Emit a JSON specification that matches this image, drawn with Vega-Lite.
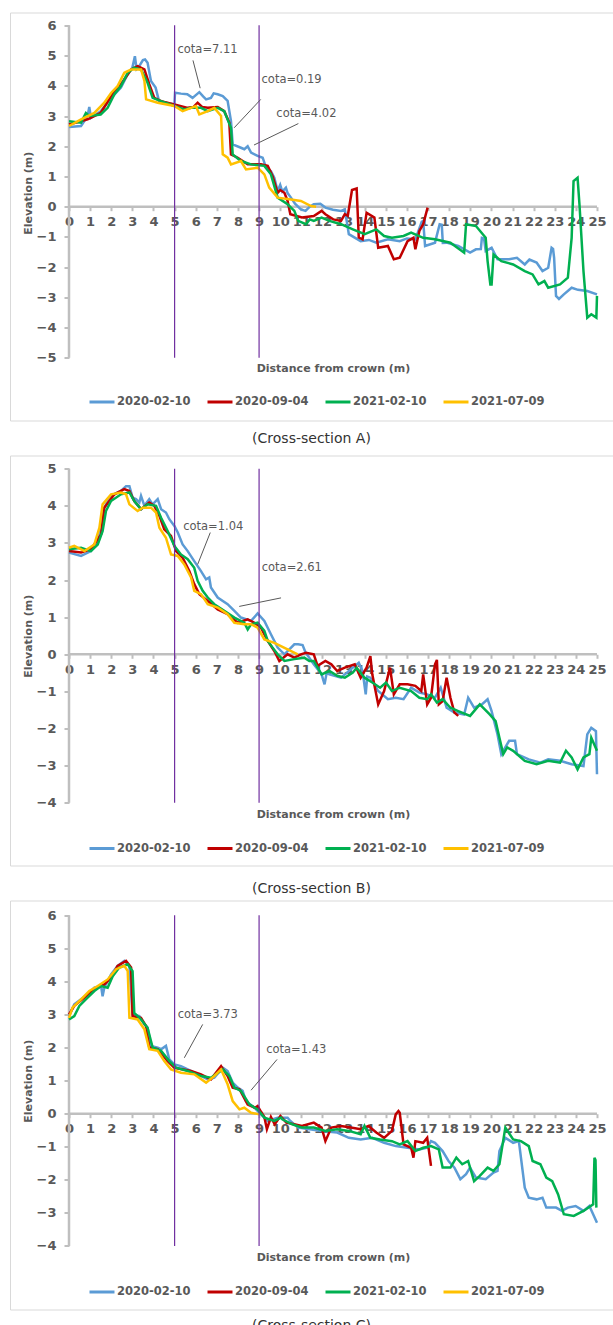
{
"$schema": "https://vega.github.io/schema/vega-lite/v6.json",
"padding": {"left": 9, "top": 11.5, "right": 0, "bottom": 0},
"background": "white",
"bounds": "flush",
"spacing": 35,
"resolve": {"scale": {"x": "independent", "y": "independent", "color": "independent"}, "axis": {"x": "independent", "y": "independent"}, "legend": {"color": "independent"}},
"config": {
  "font": "DejaVu Sans",
  "view": {"stroke": "#d9d9d9", "strokeWidth": 1},
  "axis": {"grid": false, "domain": false, "tickColor": "#bfbfbf", "tickWidth": 2, "labelColor": "#595959", "labelFont": "DejaVu Sans", "labelFontWeight": "bold", "labelFontSize": 13, "titleColor": "#595959", "titleFont": "DejaVu Sans", "titleFontWeight": "bold", "titleFontSize": 11, "labelFlush": false, "labelOverlap": false, "labelBound": false},
  "axisX": {"tickSize": 4, "labelPadding": 5, "titleX": 323, "titleBaseline": "middle", "titleAlign": "center"},
  "axisY": {"offset": -59, "tickSize": 5, "labelPadding": 8, "titleX": -41, "titleY": 180.2, "titleAngle": 270, "titleBaseline": "middle", "titleAlign": "center"},
  "legend": {"orient": "none", "legendX": 78, "direction": "horizontal", "symbolType": "stroke", "symbolStrokeWidth": 3, "symbolSize": 625, "labelFont": "DejaVu Sans", "labelFontWeight": "bold", "labelFontSize": 11.5, "labelColor": "#595959", "labelOffset": 1, "columnPadding": 10, "padding": 0, "title": null},
  "title": {"font": "DejaVu Sans", "fontSize": 14, "fontWeight": "normal", "color": "#333333", "orient": "bottom", "anchor": "middle", "baseline": "middle", "frame": "group"}
},
"datasets": {
"lA": [
{"d":"2020-02-10","x":0,"y":2.64},{"d":"2020-02-10","x":0.57,"y":2.67},{"d":"2020-02-10","x":0.88,"y":3.0},{"d":"2020-02-10","x":0.96,"y":3.3},{"d":"2020-02-10","x":1.04,"y":2.94},{"d":"2020-02-10","x":1.5,"y":3.16},{"d":"2020-02-10","x":2.0,"y":3.6},{"d":"2020-02-10","x":2.46,"y":3.94},{"d":"2020-02-10","x":2.78,"y":4.38},{"d":"2020-02-10","x":3.0,"y":4.6},{"d":"2020-02-10","x":3.12,"y":4.98},{"d":"2020-02-10","x":3.2,"y":4.55},{"d":"2020-02-10","x":3.28,"y":4.6},{"d":"2020-02-10","x":3.5,"y":4.85},{"d":"2020-02-10","x":3.6,"y":4.87},{"d":"2020-02-10","x":3.72,"y":4.76},{"d":"2020-02-10","x":3.88,"y":4.16},{"d":"2020-02-10","x":4.1,"y":3.94},{"d":"2020-02-10","x":4.26,"y":3.5},{"d":"2020-02-10","x":4.7,"y":3.42},{"d":"2020-02-10","x":4.99,"y":3.38},{"d":"2020-02-10","x":5.02,"y":3.77},{"d":"2020-02-10","x":5.3,"y":3.74},{"d":"2020-02-10","x":5.6,"y":3.72},{"d":"2020-02-10","x":5.85,"y":3.6},{"d":"2020-02-10","x":6.17,"y":3.79},{"d":"2020-02-10","x":6.35,"y":3.65},{"d":"2020-02-10","x":6.49,"y":3.55},{"d":"2020-02-10","x":6.72,"y":3.6},{"d":"2020-02-10","x":6.85,"y":3.75},{"d":"2020-02-10","x":7.04,"y":3.72},{"d":"2020-02-10","x":7.28,"y":3.66},{"d":"2020-02-10","x":7.51,"y":3.5},{"d":"2020-02-10","x":7.67,"y":2.83},{"d":"2020-02-10","x":7.75,"y":2.06},{"d":"2020-02-10","x":8.14,"y":1.95},{"d":"2020-02-10","x":8.3,"y":1.9},{"d":"2020-02-10","x":8.46,"y":2.0},{"d":"2020-02-10","x":8.62,"y":1.79},{"d":"2020-02-10","x":8.93,"y":1.68},{"d":"2020-02-10","x":9.17,"y":1.62},{"d":"2020-02-10","x":9.33,"y":1.29},{"d":"2020-02-10","x":9.56,"y":1.18},{"d":"2020-02-10","x":9.72,"y":0.96},{"d":"2020-02-10","x":9.88,"y":0.52},{"d":"2020-02-10","x":10.0,"y":0.72},{"d":"2020-02-10","x":10.1,"y":0.5},{"d":"2020-02-10","x":10.27,"y":0.63},{"d":"2020-02-10","x":10.35,"y":0.45},{"d":"2020-02-10","x":10.51,"y":0.3},{"d":"2020-02-10","x":10.7,"y":0.1},{"d":"2020-02-10","x":10.98,"y":-0.09},{"d":"2020-02-10","x":11.2,"y":-0.14},{"d":"2020-02-10","x":11.4,"y":0.0},{"d":"2020-02-10","x":11.59,"y":0.08},{"d":"2020-02-10","x":11.9,"y":0.1},{"d":"2020-02-10","x":12.14,"y":-0.03},{"d":"2020-02-10","x":12.5,"y":-0.1},{"d":"2020-02-10","x":12.88,"y":-0.14},{"d":"2020-02-10","x":13.06,"y":-0.09},{"d":"2020-02-10","x":13.25,"y":-0.91},{"d":"2020-02-10","x":13.81,"y":-1.14},{"d":"2020-02-10","x":14.2,"y":-1.1},{"d":"2020-02-10","x":14.55,"y":-1.19},{"d":"2020-02-10","x":15.1,"y":-1.08},{"d":"2020-02-10","x":15.66,"y":-1.14},{"d":"2020-02-10","x":16.0,"y":-1.05},{"d":"2020-02-10","x":16.4,"y":-1.08},{"d":"2020-02-10","x":16.7,"y":-0.5},{"d":"2020-02-10","x":16.77,"y":-0.47},{"d":"2020-02-10","x":16.86,"y":-1.3},{"d":"2020-02-10","x":17.33,"y":-1.19},{"d":"2020-02-10","x":17.55,"y":-0.58},{"d":"2020-02-10","x":17.65,"y":-0.6},{"d":"2020-02-10","x":17.7,"y":-1.2},{"d":"2020-02-10","x":17.88,"y":-1.19},{"d":"2020-02-10","x":18.43,"y":-1.3},{"d":"2020-02-10","x":18.99,"y":-1.52},{"d":"2020-02-10","x":19.27,"y":-1.41},{"d":"2020-02-10","x":19.5,"y":-1.4},{"d":"2020-02-10","x":19.55,"y":-1.03},{"d":"2020-02-10","x":19.65,"y":-1.05},{"d":"2020-02-10","x":19.73,"y":-1.47},{"d":"2020-02-10","x":20.01,"y":-1.36},{"d":"2020-02-10","x":20.29,"y":-1.74},{"d":"2020-02-10","x":20.84,"y":-1.74},{"d":"2020-02-10","x":21.21,"y":-1.69},{"d":"2020-02-10","x":21.58,"y":-1.91},{"d":"2020-02-10","x":21.8,"y":-1.75},{"d":"2020-02-10","x":22.14,"y":-1.85},{"d":"2020-02-10","x":22.42,"y":-2.13},{"d":"2020-02-10","x":22.69,"y":-2.02},{"d":"2020-02-10","x":22.85,"y":-1.36},{"d":"2020-02-10","x":22.92,"y":-1.4},{"d":"2020-02-10","x":22.97,"y":-1.69},{"d":"2020-02-10","x":23.06,"y":-2.95},{"d":"2020-02-10","x":23.2,"y":-3.05},{"d":"2020-02-10","x":23.43,"y":-2.9},{"d":"2020-02-10","x":23.8,"y":-2.68},{"d":"2020-02-10","x":24.1,"y":-2.75},{"d":"2020-02-10","x":24.54,"y":-2.79},{"d":"2020-02-10","x":25.0,"y":-2.9},
{"d":"2020-09-04","x":0,"y":2.72},{"d":"2020-09-04","x":0.88,"y":2.89},{"d":"2020-09-04","x":1.5,"y":3.1},{"d":"2020-09-04","x":2.15,"y":3.83},{"d":"2020-09-04","x":2.46,"y":4.05},{"d":"2020-09-04","x":2.94,"y":4.54},{"d":"2020-09-04","x":3.25,"y":4.65},{"d":"2020-09-04","x":3.57,"y":4.54},{"d":"2020-09-04","x":3.8,"y":4.05},{"d":"2020-09-04","x":4.04,"y":3.6},{"d":"2020-09-04","x":4.36,"y":3.49},{"d":"2020-09-04","x":4.99,"y":3.38},{"d":"2020-09-04","x":5.62,"y":3.27},{"d":"2020-09-04","x":5.9,"y":3.3},{"d":"2020-09-04","x":6.09,"y":3.44},{"d":"2020-09-04","x":6.3,"y":3.3},{"d":"2020-09-04","x":6.57,"y":3.27},{"d":"2020-09-04","x":7.04,"y":3.3},{"d":"2020-09-04","x":7.35,"y":3.16},{"d":"2020-09-04","x":7.59,"y":2.78},{"d":"2020-09-04","x":7.67,"y":1.73},{"d":"2020-09-04","x":7.99,"y":1.62},{"d":"2020-09-04","x":8.46,"y":1.4},{"d":"2020-09-04","x":9.09,"y":1.4},{"d":"2020-09-04","x":9.41,"y":1.35},{"d":"2020-09-04","x":9.64,"y":1.01},{"d":"2020-09-04","x":9.88,"y":0.46},{"d":"2020-09-04","x":10.0,"y":0.55},{"d":"2020-09-04","x":10.2,"y":0.46},{"d":"2020-09-04","x":10.35,"y":0.19},{"d":"2020-09-04","x":10.48,"y":-0.25},{"d":"2020-09-04","x":11.03,"y":-0.36},{"d":"2020-09-04","x":11.59,"y":-0.31},{"d":"2020-09-04","x":11.96,"y":-0.14},{"d":"2020-09-04","x":12.14,"y":-0.25},{"d":"2020-09-04","x":12.51,"y":-0.42},{"d":"2020-09-04","x":12.88,"y":-0.47},{"d":"2020-09-04","x":13.06,"y":-0.25},{"d":"2020-09-04","x":13.2,"y":-0.3},{"d":"2020-09-04","x":13.4,"y":0.55},{"d":"2020-09-04","x":13.62,"y":0.6},{"d":"2020-09-04","x":13.72,"y":-1.02},{"d":"2020-09-04","x":13.9,"y":-1.08},{"d":"2020-09-04","x":14.09,"y":-0.2},{"d":"2020-09-04","x":14.46,"y":-0.36},{"d":"2020-09-04","x":14.64,"y":-1.36},{"d":"2020-09-04","x":15.1,"y":-1.3},{"d":"2020-09-04","x":15.38,"y":-1.74},{"d":"2020-09-04","x":15.66,"y":-1.69},{"d":"2020-09-04","x":16.03,"y":-1.14},{"d":"2020-09-04","x":16.31,"y":-1.03},{"d":"2020-09-04","x":16.4,"y":-1.41},{"d":"2020-09-04","x":16.59,"y":-0.8},{"d":"2020-09-04","x":16.77,"y":-0.58},{"d":"2020-09-04","x":16.98,"y":-0.03},
{"d":"2021-02-10","x":0,"y":2.83},{"d":"2021-02-10","x":0.57,"y":2.78},{"d":"2021-02-10","x":0.8,"y":3.1},{"d":"2021-02-10","x":0.96,"y":3.0},{"d":"2021-02-10","x":1.5,"y":3.05},{"d":"2021-02-10","x":1.83,"y":3.27},{"d":"2021-02-10","x":2.15,"y":3.72},{"d":"2021-02-10","x":2.46,"y":3.99},{"d":"2021-02-10","x":2.78,"y":4.43},{"d":"2021-02-10","x":3.09,"y":4.6},{"d":"2021-02-10","x":3.41,"y":4.54},{"d":"2021-02-10","x":3.72,"y":4.1},{"d":"2021-02-10","x":3.96,"y":3.6},{"d":"2021-02-10","x":4.36,"y":3.49},{"d":"2021-02-10","x":4.99,"y":3.33},{"d":"2021-02-10","x":5.46,"y":3.22},{"d":"2021-02-10","x":5.78,"y":3.27},{"d":"2021-02-10","x":6.25,"y":3.27},{"d":"2021-02-10","x":6.57,"y":3.16},{"d":"2021-02-10","x":7.04,"y":3.27},{"d":"2021-02-10","x":7.35,"y":3.16},{"d":"2021-02-10","x":7.67,"y":2.61},{"d":"2021-02-10","x":7.75,"y":1.73},{"d":"2021-02-10","x":8.14,"y":1.51},{"d":"2021-02-10","x":8.62,"y":1.4},{"d":"2021-02-10","x":9.25,"y":1.35},{"d":"2021-02-10","x":9.56,"y":1.07},{"d":"2021-02-10","x":9.88,"y":0.3},{"d":"2021-02-10","x":10.35,"y":0.08},{"d":"2021-02-10","x":10.67,"y":-0.14},{"d":"2021-02-10","x":10.85,"y":-0.47},{"d":"2021-02-10","x":11.22,"y":-0.58},{"d":"2021-02-10","x":11.4,"y":-0.42},{"d":"2021-02-10","x":11.59,"y":-0.47},{"d":"2021-02-10","x":11.96,"y":-0.36},{"d":"2021-02-10","x":12.33,"y":-0.47},{"d":"2021-02-10","x":12.88,"y":-0.58},{"d":"2021-02-10","x":13.44,"y":-0.75},{"d":"2021-02-10","x":14.0,"y":-0.91},{"d":"2021-02-10","x":14.55,"y":-0.75},{"d":"2021-02-10","x":14.92,"y":-0.97},{"d":"2021-02-10","x":15.29,"y":-1.03},{"d":"2021-02-10","x":15.84,"y":-0.97},{"d":"2021-02-10","x":16.2,"y":-0.86},{"d":"2021-02-10","x":16.77,"y":-1.03},{"d":"2021-02-10","x":17.33,"y":-1.08},{"d":"2021-02-10","x":18.06,"y":-1.19},{"d":"2021-02-10","x":18.71,"y":-1.52},{"d":"2021-02-10","x":18.8,"y":-0.58},{"d":"2021-02-10","x":19.27,"y":-0.64},{"d":"2021-02-10","x":19.73,"y":-1.03},{"d":"2021-02-10","x":19.82,"y":-1.8},{"d":"2021-02-10","x":19.95,"y":-2.57},{"d":"2021-02-10","x":20.01,"y":-2.57},{"d":"2021-02-10","x":20.1,"y":-1.58},{"d":"2021-02-10","x":20.47,"y":-1.8},{"d":"2021-02-10","x":21.03,"y":-1.91},{"d":"2021-02-10","x":21.58,"y":-2.13},{"d":"2021-02-10","x":21.95,"y":-2.24},{"d":"2021-02-10","x":22.23,"y":-2.57},{"d":"2021-02-10","x":22.51,"y":-2.46},{"d":"2021-02-10","x":22.69,"y":-2.68},{"d":"2021-02-10","x":23.25,"y":-2.57},{"d":"2021-02-10","x":23.62,"y":-2.35},{"d":"2021-02-10","x":23.8,"y":-1.03},{"d":"2021-02-10","x":23.89,"y":0.85},{"d":"2021-02-10","x":24.08,"y":0.96},{"d":"2021-02-10","x":24.17,"y":0.08},{"d":"2021-02-10","x":24.36,"y":-2.13},{"d":"2021-02-10","x":24.54,"y":-3.67},{"d":"2021-02-10","x":24.73,"y":-3.56},{"d":"2021-02-10","x":24.97,"y":-3.67},{"d":"2021-02-10","x":25.0,"y":-2.95},
{"d":"2021-07-09","x":0,"y":2.67},{"d":"2021-07-09","x":0.57,"y":2.89},{"d":"2021-07-09","x":1.2,"y":3.1},{"d":"2021-07-09","x":1.67,"y":3.44},{"d":"2021-07-09","x":2.0,"y":3.77},{"d":"2021-07-09","x":2.3,"y":3.99},{"d":"2021-07-09","x":2.62,"y":4.43},{"d":"2021-07-09","x":2.94,"y":4.54},{"d":"2021-07-09","x":3.41,"y":4.54},{"d":"2021-07-09","x":3.57,"y":4.16},{"d":"2021-07-09","x":3.65,"y":3.55},{"d":"2021-07-09","x":4.2,"y":3.44},{"d":"2021-07-09","x":4.99,"y":3.33},{"d":"2021-07-09","x":5.38,"y":3.16},{"d":"2021-07-09","x":5.78,"y":3.27},{"d":"2021-07-09","x":6.01,"y":3.33},{"d":"2021-07-09","x":6.17,"y":3.05},{"d":"2021-07-09","x":6.57,"y":3.16},{"d":"2021-07-09","x":6.88,"y":3.27},{"d":"2021-07-09","x":7.2,"y":3.0},{"d":"2021-07-09","x":7.28,"y":1.73},{"d":"2021-07-09","x":7.51,"y":1.62},{"d":"2021-07-09","x":7.67,"y":1.4},{"d":"2021-07-09","x":8.14,"y":1.51},{"d":"2021-07-09","x":8.38,"y":1.23},{"d":"2021-07-09","x":8.93,"y":1.29},{"d":"2021-07-09","x":9.25,"y":1.07},{"d":"2021-07-09","x":9.48,"y":0.63},{"d":"2021-07-09","x":9.88,"y":0.3},{"d":"2021-07-09","x":10.51,"y":0.24},{"d":"2021-07-09","x":10.98,"y":0.19},{"d":"2021-07-09","x":11.46,"y":0.02},{"d":"2021-07-09","x":11.7,"y":0.0}
],
"lB": [
{"d":"2020-02-10","x":0,"y":2.74},{"d":"2020-02-10","x":0.57,"y":2.65},{"d":"2020-02-10","x":1.04,"y":2.78},{"d":"2020-02-10","x":1.36,"y":3.05},{"d":"2020-02-10","x":1.52,"y":3.41},{"d":"2020-02-10","x":1.67,"y":3.95},{"d":"2020-02-10","x":1.99,"y":4.27},{"d":"2020-02-10","x":2.46,"y":4.4},{"d":"2020-02-10","x":2.7,"y":4.53},{"d":"2020-02-10","x":2.86,"y":4.53},{"d":"2020-02-10","x":3.01,"y":4.22},{"d":"2020-02-10","x":3.17,"y":4.18},{"d":"2020-02-10","x":3.33,"y":4.09},{"d":"2020-02-10","x":3.41,"y":4.27},{"d":"2020-02-10","x":3.57,"y":4.0},{"d":"2020-02-10","x":3.8,"y":4.18},{"d":"2020-02-10","x":3.96,"y":4.04},{"d":"2020-02-10","x":4.2,"y":4.18},{"d":"2020-02-10","x":4.36,"y":3.91},{"d":"2020-02-10","x":4.59,"y":3.82},{"d":"2020-02-10","x":4.75,"y":3.64},{"d":"2020-02-10","x":4.99,"y":3.46},{"d":"2020-02-10","x":5.15,"y":3.28},{"d":"2020-02-10","x":5.38,"y":2.96},{"d":"2020-02-10","x":5.62,"y":2.78},{"d":"2020-02-10","x":5.93,"y":2.51},{"d":"2020-02-10","x":6.25,"y":2.24},{"d":"2020-02-10","x":6.49,"y":2.02},{"d":"2020-02-10","x":6.64,"y":2.07},{"d":"2020-02-10","x":6.72,"y":1.8},{"d":"2020-02-10","x":7.04,"y":1.53},{"d":"2020-02-10","x":7.51,"y":1.35},{"d":"2020-02-10","x":7.83,"y":1.17},{"d":"2020-02-10","x":8.14,"y":0.99},{"d":"2020-02-10","x":8.62,"y":0.9},{"d":"2020-02-10","x":8.93,"y":1.1},{"d":"2020-02-10","x":9.25,"y":0.9},{"d":"2020-02-10","x":9.56,"y":0.54},{"d":"2020-02-10","x":9.88,"y":0.18},{"d":"2020-02-10","x":10.2,"y":0.0},{"d":"2020-02-10","x":10.67,"y":0.27},{"d":"2020-02-10","x":10.85,"y":0.27},{"d":"2020-02-10","x":11.06,"y":0.25},{"d":"2020-02-10","x":11.2,"y":0.05},{"d":"2020-02-10","x":11.59,"y":-0.27},{"d":"2020-02-10","x":11.96,"y":-0.54},{"d":"2020-02-10","x":12.1,"y":-0.81},{"d":"2020-02-10","x":12.2,"y":-0.5},{"d":"2020-02-10","x":12.33,"y":-0.54},{"d":"2020-02-10","x":12.88,"y":-0.63},{"d":"2020-02-10","x":13.44,"y":-0.36},{"d":"2020-02-10","x":13.72,"y":-0.23},{"d":"2020-02-10","x":13.9,"y":-0.45},{"d":"2020-02-10","x":14.05,"y":-1.08},{"d":"2020-02-10","x":14.12,"y":-0.6},{"d":"2020-02-10","x":14.27,"y":-0.63},{"d":"2020-02-10","x":14.64,"y":-0.99},{"d":"2020-02-10","x":15.1,"y":-1.21},{"d":"2020-02-10","x":15.47,"y":-1.17},{"d":"2020-02-10","x":15.84,"y":-1.21},{"d":"2020-02-10","x":16.2,"y":-0.9},{"d":"2020-02-10","x":16.59,"y":-1.03},{"d":"2020-02-10","x":16.96,"y":-1.08},{"d":"2020-02-10","x":17.33,"y":-1.17},{"d":"2020-02-10","x":17.6,"y":-0.9},{"d":"2020-02-10","x":17.88,"y":-1.44},{"d":"2020-02-10","x":18.25,"y":-1.57},{"d":"2020-02-10","x":18.71,"y":-1.62},{"d":"2020-02-10","x":18.9,"y":-1.17},{"d":"2020-02-10","x":19.18,"y":-1.44},{"d":"2020-02-10","x":19.55,"y":-1.35},{"d":"2020-02-10","x":19.82,"y":-1.21},{"d":"2020-02-10","x":20.01,"y":-1.53},{"d":"2020-02-10","x":20.29,"y":-2.16},{"d":"2020-02-10","x":20.47,"y":-2.69},{"d":"2020-02-10","x":20.84,"y":-2.33},{"d":"2020-02-10","x":21.12,"y":-2.33},{"d":"2020-02-10","x":21.21,"y":-2.69},{"d":"2020-02-10","x":21.77,"y":-2.83},{"d":"2020-02-10","x":22.32,"y":-2.92},{"d":"2020-02-10","x":22.69,"y":-2.83},{"d":"2020-02-10","x":23.25,"y":-2.87},{"d":"2020-02-10","x":23.8,"y":-2.96},{"d":"2020-02-10","x":24.36,"y":-3.01},{"d":"2020-02-10","x":24.54,"y":-2.16},{"d":"2020-02-10","x":24.73,"y":-1.98},{"d":"2020-02-10","x":24.95,"y":-2.07},{"d":"2020-02-10","x":25.0,"y":-3.23},
{"d":"2020-09-04","x":0,"y":2.78},{"d":"2020-09-04","x":0.57,"y":2.74},{"d":"2020-09-04","x":1.04,"y":2.83},{"d":"2020-09-04","x":1.52,"y":3.23},{"d":"2020-09-04","x":1.67,"y":3.95},{"d":"2020-09-04","x":2.15,"y":4.31},{"d":"2020-09-04","x":2.62,"y":4.45},{"d":"2020-09-04","x":2.86,"y":4.4},{"d":"2020-09-04","x":3.09,"y":4.13},{"d":"2020-09-04","x":3.41,"y":3.91},{"d":"2020-09-04","x":3.8,"y":4.09},{"d":"2020-09-04","x":4.04,"y":4.0},{"d":"2020-09-04","x":4.28,"y":3.73},{"d":"2020-09-04","x":4.51,"y":3.37},{"d":"2020-09-04","x":4.83,"y":3.19},{"d":"2020-09-04","x":5.07,"y":2.78},{"d":"2020-09-04","x":5.38,"y":2.6},{"d":"2020-09-04","x":5.7,"y":2.24},{"d":"2020-09-04","x":5.93,"y":1.89},{"d":"2020-09-04","x":6.17,"y":1.62},{"d":"2020-09-04","x":6.57,"y":1.44},{"d":"2020-09-04","x":7.04,"y":1.21},{"d":"2020-09-04","x":7.51,"y":1.08},{"d":"2020-09-04","x":7.99,"y":0.85},{"d":"2020-09-04","x":8.46,"y":0.94},{"d":"2020-09-04","x":8.78,"y":0.85},{"d":"2020-09-04","x":9.09,"y":0.72},{"d":"2020-09-04","x":9.41,"y":0.36},{"d":"2020-09-04","x":9.72,"y":0.09},{"d":"2020-09-04","x":9.96,"y":-0.18},{"d":"2020-09-04","x":10.35,"y":0.0},{"d":"2020-09-04","x":10.67,"y":-0.09},{"d":"2020-09-04","x":10.98,"y":0.0},{"d":"2020-09-04","x":11.22,"y":0.04},{"d":"2020-09-04","x":11.59,"y":0.0},{"d":"2020-09-04","x":11.77,"y":-0.31},{"d":"2020-09-04","x":12.14,"y":-0.18},{"d":"2020-09-04","x":12.42,"y":-0.27},{"d":"2020-09-04","x":12.7,"y":-0.45},{"d":"2020-09-04","x":13.06,"y":-0.36},{"d":"2020-09-04","x":13.53,"y":-0.27},{"d":"2020-09-04","x":13.81,"y":-0.63},{"d":"2020-09-04","x":14.09,"y":-0.36},{"d":"2020-09-04","x":14.27,"y":-0.05},{"d":"2020-09-04","x":14.36,"y":-0.54},{"d":"2020-09-04","x":14.64,"y":-1.35},{"d":"2020-09-04","x":14.92,"y":-0.99},{"d":"2020-09-04","x":15.2,"y":-0.36},{"d":"2020-09-04","x":15.38,"y":-1.08},{"d":"2020-09-04","x":15.66,"y":-0.81},{"d":"2020-09-04","x":16.03,"y":-0.81},{"d":"2020-09-04","x":16.4,"y":-0.85},{"d":"2020-09-04","x":16.68,"y":-0.99},{"d":"2020-09-04","x":16.77,"y":-0.54},{"d":"2020-09-04","x":16.96,"y":-1.35},{"d":"2020-09-04","x":17.14,"y":-1.17},{"d":"2020-09-04","x":17.33,"y":-0.27},{"d":"2020-09-04","x":17.42,"y":-0.15},{"d":"2020-09-04","x":17.51,"y":-1.35},{"d":"2020-09-04","x":17.69,"y":-1.26},{"d":"2020-09-04","x":17.88,"y":-0.63},{"d":"2020-09-04","x":18.06,"y":-1.17},{"d":"2020-09-04","x":18.25,"y":-1.57},{"d":"2020-09-04","x":18.43,"y":-1.66},
{"d":"2021-02-10","x":0,"y":2.83},{"d":"2021-02-10","x":0.57,"y":2.87},{"d":"2021-02-10","x":1.04,"y":2.78},{"d":"2021-02-10","x":1.36,"y":2.96},{"d":"2021-02-10","x":1.59,"y":3.32},{"d":"2021-02-10","x":1.75,"y":3.86},{"d":"2021-02-10","x":1.99,"y":4.13},{"d":"2021-02-10","x":2.46,"y":4.31},{"d":"2021-02-10","x":2.86,"y":4.36},{"d":"2021-02-10","x":3.09,"y":4.13},{"d":"2021-02-10","x":3.41,"y":3.91},{"d":"2021-02-10","x":3.72,"y":4.04},{"d":"2021-02-10","x":4.12,"y":4.0},{"d":"2021-02-10","x":4.36,"y":3.68},{"d":"2021-02-10","x":4.67,"y":3.32},{"d":"2021-02-10","x":4.99,"y":2.92},{"d":"2021-02-10","x":5.3,"y":2.69},{"d":"2021-02-10","x":5.62,"y":2.56},{"d":"2021-02-10","x":5.93,"y":2.33},{"d":"2021-02-10","x":6.09,"y":1.98},{"d":"2021-02-10","x":6.33,"y":1.71},{"d":"2021-02-10","x":6.57,"y":1.53},{"d":"2021-02-10","x":6.88,"y":1.35},{"d":"2021-02-10","x":7.35,"y":1.17},{"d":"2021-02-10","x":7.83,"y":0.99},{"d":"2021-02-10","x":8.3,"y":0.85},{"d":"2021-02-10","x":8.46,"y":0.67},{"d":"2021-02-10","x":8.62,"y":0.81},{"d":"2021-02-10","x":8.93,"y":0.85},{"d":"2021-02-10","x":9.25,"y":0.63},{"d":"2021-02-10","x":9.41,"y":0.36},{"d":"2021-02-10","x":9.64,"y":0.18},{"d":"2021-02-10","x":9.88,"y":0.0},{"d":"2021-02-10","x":10.2,"y":-0.18},{"d":"2021-02-10","x":10.67,"y":-0.13},{"d":"2021-02-10","x":11.14,"y":-0.09},{"d":"2021-02-10","x":11.38,"y":-0.18},{"d":"2021-02-10","x":11.59,"y":-0.18},{"d":"2021-02-10","x":11.96,"y":-0.54},{"d":"2021-02-10","x":12.33,"y":-0.45},{"d":"2021-02-10","x":12.7,"y":-0.58},{"d":"2021-02-10","x":13.06,"y":-0.63},{"d":"2021-02-10","x":13.44,"y":-0.49},{"d":"2021-02-10","x":13.62,"y":-0.36},{"d":"2021-02-10","x":13.99,"y":-0.63},{"d":"2021-02-10","x":14.36,"y":-0.76},{"d":"2021-02-10","x":14.73,"y":-0.9},{"d":"2021-02-10","x":15.01,"y":-0.76},{"d":"2021-02-10","x":15.29,"y":-0.99},{"d":"2021-02-10","x":15.66,"y":-0.9},{"d":"2021-02-10","x":16.2,"y":-0.99},{"d":"2021-02-10","x":16.59,"y":-1.17},{"d":"2021-02-10","x":16.96,"y":-1.21},{"d":"2021-02-10","x":17.14,"y":-1.08},{"d":"2021-02-10","x":17.42,"y":-1.3},{"d":"2021-02-10","x":17.69,"y":-1.21},{"d":"2021-02-10","x":18.06,"y":-1.44},{"d":"2021-02-10","x":18.43,"y":-1.53},{"d":"2021-02-10","x":18.99,"y":-1.66},{"d":"2021-02-10","x":19.45,"y":-1.35},{"d":"2021-02-10","x":19.92,"y":-1.62},{"d":"2021-02-10","x":20.2,"y":-1.8},{"d":"2021-02-10","x":20.38,"y":-2.25},{"d":"2021-02-10","x":20.56,"y":-2.69},{"d":"2021-02-10","x":20.75,"y":-2.51},{"d":"2021-02-10","x":21.03,"y":-2.6},{"d":"2021-02-10","x":21.58,"y":-2.87},{"d":"2021-02-10","x":22.14,"y":-2.96},{"d":"2021-02-10","x":22.69,"y":-2.87},{"d":"2021-02-10","x":23.25,"y":-2.92},{"d":"2021-02-10","x":23.53,"y":-2.6},{"d":"2021-02-10","x":23.8,"y":-2.78},{"d":"2021-02-10","x":24.08,"y":-3.1},{"d":"2021-02-10","x":24.36,"y":-2.78},{"d":"2021-02-10","x":24.64,"y":-2.69},{"d":"2021-02-10","x":24.73,"y":-2.25},{"d":"2021-02-10","x":25.0,"y":-2.6},
{"d":"2021-07-09","x":0,"y":2.87},{"d":"2021-07-09","x":0.25,"y":2.92},{"d":"2021-07-09","x":0.73,"y":2.78},{"d":"2021-07-09","x":1.2,"y":2.96},{"d":"2021-07-09","x":1.44,"y":3.41},{"d":"2021-07-09","x":1.59,"y":4.04},{"d":"2021-07-09","x":1.99,"y":4.31},{"d":"2021-07-09","x":2.46,"y":4.36},{"d":"2021-07-09","x":2.7,"y":4.31},{"d":"2021-07-09","x":2.86,"y":4.04},{"d":"2021-07-09","x":3.25,"y":3.86},{"d":"2021-07-09","x":3.49,"y":3.95},{"d":"2021-07-09","x":3.88,"y":3.95},{"d":"2021-07-09","x":4.12,"y":3.82},{"d":"2021-07-09","x":4.28,"y":3.41},{"d":"2021-07-09","x":4.59,"y":3.14},{"d":"2021-07-09","x":4.83,"y":2.69},{"d":"2021-07-09","x":5.15,"y":2.65},{"d":"2021-07-09","x":5.46,"y":2.42},{"d":"2021-07-09","x":5.78,"y":2.07},{"d":"2021-07-09","x":5.93,"y":1.71},{"d":"2021-07-09","x":6.25,"y":1.62},{"d":"2021-07-09","x":6.57,"y":1.35},{"d":"2021-07-09","x":7.04,"y":1.26},{"d":"2021-07-09","x":7.51,"y":1.08},{"d":"2021-07-09","x":7.83,"y":0.85},{"d":"2021-07-09","x":8.3,"y":0.81},{"d":"2021-07-09","x":8.62,"y":0.81},{"d":"2021-07-09","x":8.93,"y":0.72},{"d":"2021-07-09","x":9.25,"y":0.4},{"d":"2021-07-09","x":9.72,"y":0.31},{"d":"2021-07-09","x":10.35,"y":0.13},{"d":"2021-07-09","x":10.83,"y":0.0}
],
"lC": [
{"d":"2020-02-10","x":0,"y":2.95},{"d":"2020-02-10","x":0.25,"y":3.31},{"d":"2020-02-10","x":0.57,"y":3.46},{"d":"2020-02-10","x":0.88,"y":3.61},{"d":"2020-02-10","x":1.2,"y":3.81},{"d":"2020-02-10","x":1.52,"y":3.86},{"d":"2020-02-10","x":1.59,"y":3.55},{"d":"2020-02-10","x":1.67,"y":3.81},{"d":"2020-02-10","x":1.99,"y":4.21},{"d":"2020-02-10","x":2.3,"y":4.47},{"d":"2020-02-10","x":2.62,"y":4.62},{"d":"2020-02-10","x":2.86,"y":4.47},{"d":"2020-02-10","x":3.01,"y":3.0},{"d":"2020-02-10","x":3.33,"y":2.95},{"d":"2020-02-10","x":3.57,"y":2.7},{"d":"2020-02-10","x":3.72,"y":2.6},{"d":"2020-02-10","x":3.88,"y":2.05},{"d":"2020-02-10","x":4.2,"y":2.0},{"d":"2020-02-10","x":4.36,"y":1.95},{"d":"2020-02-10","x":4.59,"y":2.05},{"d":"2020-02-10","x":4.75,"y":1.64},{"d":"2020-02-10","x":4.99,"y":1.49},{"d":"2020-02-10","x":5.3,"y":1.44},{"d":"2020-02-10","x":5.62,"y":1.34},{"d":"2020-02-10","x":5.93,"y":1.24},{"d":"2020-02-10","x":6.25,"y":1.14},{"d":"2020-02-10","x":6.57,"y":1.04},{"d":"2020-02-10","x":6.88,"y":1.09},{"d":"2020-02-10","x":7.28,"y":1.39},{"d":"2020-02-10","x":7.51,"y":1.29},{"d":"2020-02-10","x":7.75,"y":0.94},{"d":"2020-02-10","x":7.99,"y":0.79},{"d":"2020-02-10","x":8.22,"y":0.69},{"d":"2020-02-10","x":8.38,"y":0.38},{"d":"2020-02-10","x":8.78,"y":0.18},{"d":"2020-02-10","x":9.09,"y":-0.02},{"d":"2020-02-10","x":9.41,"y":-0.22},{"d":"2020-02-10","x":9.88,"y":-0.12},{"d":"2020-02-10","x":10.35,"y":-0.12},{"d":"2020-02-10","x":10.48,"y":-0.22},{"d":"2020-02-10","x":10.85,"y":-0.42},{"d":"2020-02-10","x":11.4,"y":-0.47},{"d":"2020-02-10","x":11.96,"y":-0.52},{"d":"2020-02-10","x":12.7,"y":-0.57},{"d":"2020-02-10","x":13.25,"y":-0.73},{"d":"2020-02-10","x":13.81,"y":-0.78},{"d":"2020-02-10","x":14.36,"y":-0.73},{"d":"2020-02-10","x":14.92,"y":-0.88},{"d":"2020-02-10","x":15.47,"y":-0.98},{"d":"2020-02-10","x":16.03,"y":-1.03},{"d":"2020-02-10","x":16.59,"y":-1.08},{"d":"2020-02-10","x":16.96,"y":-1.03},{"d":"2020-02-10","x":17.14,"y":-0.83},{"d":"2020-02-10","x":17.33,"y":-0.88},{"d":"2020-02-10","x":17.69,"y":-1.13},{"d":"2020-02-10","x":17.97,"y":-1.43},{"d":"2020-02-10","x":18.25,"y":-1.63},{"d":"2020-02-10","x":18.53,"y":-1.98},{"d":"2020-02-10","x":18.8,"y":-1.83},{"d":"2020-02-10","x":18.99,"y":-1.63},{"d":"2020-02-10","x":19.27,"y":-1.93},{"d":"2020-02-10","x":19.73,"y":-1.98},{"d":"2020-02-10","x":20.1,"y":-1.78},{"d":"2020-02-10","x":20.29,"y":-1.73},{"d":"2020-02-10","x":20.38,"y":-1.13},{"d":"2020-02-10","x":20.66,"y":-0.73},{"d":"2020-02-10","x":21.03,"y":-0.88},{"d":"2020-02-10","x":21.3,"y":-0.83},{"d":"2020-02-10","x":21.58,"y":-2.24},{"d":"2020-02-10","x":21.77,"y":-2.54},{"d":"2020-02-10","x":22.14,"y":-2.59},{"d":"2020-02-10","x":22.42,"y":-2.54},{"d":"2020-02-10","x":22.6,"y":-2.84},{"d":"2020-02-10","x":23.06,"y":-2.84},{"d":"2020-02-10","x":23.34,"y":-2.94},{"d":"2020-02-10","x":23.62,"y":-2.84},{"d":"2020-02-10","x":23.99,"y":-2.79},{"d":"2020-02-10","x":24.36,"y":-2.94},{"d":"2020-02-10","x":24.64,"y":-2.79},{"d":"2020-02-10","x":25.0,"y":-3.3},
{"d":"2020-09-04","x":0,"y":3.0},{"d":"2020-09-04","x":0.25,"y":3.26},{"d":"2020-09-04","x":0.73,"y":3.51},{"d":"2020-09-04","x":1.2,"y":3.76},{"d":"2020-09-04","x":1.67,"y":3.91},{"d":"2020-09-04","x":1.99,"y":4.11},{"d":"2020-09-04","x":2.3,"y":4.47},{"d":"2020-09-04","x":2.7,"y":4.62},{"d":"2020-09-04","x":2.94,"y":4.42},{"d":"2020-09-04","x":3.01,"y":2.95},{"d":"2020-09-04","x":3.41,"y":2.9},{"d":"2020-09-04","x":3.65,"y":2.65},{"d":"2020-09-04","x":3.8,"y":2.0},{"d":"2020-09-04","x":4.2,"y":1.95},{"d":"2020-09-04","x":4.67,"y":1.59},{"d":"2020-09-04","x":4.99,"y":1.39},{"d":"2020-09-04","x":5.78,"y":1.29},{"d":"2020-09-04","x":6.25,"y":1.19},{"d":"2020-09-04","x":6.72,"y":1.04},{"d":"2020-09-04","x":7.2,"y":1.44},{"d":"2020-09-04","x":7.51,"y":1.14},{"d":"2020-09-04","x":7.75,"y":0.79},{"d":"2020-09-04","x":8.07,"y":0.74},{"d":"2020-09-04","x":8.46,"y":0.28},{"d":"2020-09-04","x":8.81,"y":0.18},{"d":"2020-09-04","x":8.93,"y":0.23},{"d":"2020-09-04","x":9.1,"y":0.05},{"d":"2020-09-04","x":9.25,"y":-0.1},{"d":"2020-09-04","x":9.37,"y":-0.47},{"d":"2020-09-04","x":9.56,"y":-0.1},{"d":"2020-09-04","x":9.74,"y":-0.32},{"d":"2020-09-04","x":10.01,"y":-0.07},{"d":"2020-09-04","x":10.29,"y":-0.27},{"d":"2020-09-04","x":10.66,"y":-0.32},{"d":"2020-09-04","x":11.03,"y":-0.37},{"d":"2020-09-04","x":11.59,"y":-0.27},{"d":"2020-09-04","x":11.96,"y":-0.42},{"d":"2020-09-04","x":12.14,"y":-0.83},{"d":"2020-09-04","x":12.42,"y":-0.42},{"d":"2020-09-04","x":12.88,"y":-0.37},{"d":"2020-09-04","x":13.34,"y":-0.42},{"d":"2020-09-04","x":13.81,"y":-0.47},{"d":"2020-09-04","x":14.18,"y":-0.37},{"d":"2020-09-04","x":14.55,"y":-0.57},{"d":"2020-09-04","x":14.92,"y":-0.73},{"d":"2020-09-04","x":15.29,"y":-0.52},{"d":"2020-09-04","x":15.47,"y":-0.02},{"d":"2020-09-04","x":15.6,"y":0.08},{"d":"2020-09-04","x":15.66,"y":0.03},{"d":"2020-09-04","x":15.84,"y":-0.93},{"d":"2020-09-04","x":16.2,"y":-1.03},{"d":"2020-09-04","x":16.31,"y":-1.33},{"d":"2020-09-04","x":16.4,"y":-0.83},{"d":"2020-09-04","x":16.77,"y":-0.88},{"d":"2020-09-04","x":16.96,"y":-0.73},{"d":"2020-09-04","x":17.14,"y":-1.58},
{"d":"2021-02-10","x":0,"y":2.85},{"d":"2021-02-10","x":0.25,"y":2.95},{"d":"2021-02-10","x":0.49,"y":3.26},{"d":"2021-02-10","x":0.88,"y":3.51},{"d":"2021-02-10","x":1.2,"y":3.71},{"d":"2021-02-10","x":1.52,"y":3.86},{"d":"2021-02-10","x":1.83,"y":3.81},{"d":"2021-02-10","x":2.07,"y":4.16},{"d":"2021-02-10","x":2.38,"y":4.42},{"d":"2021-02-10","x":2.78,"y":4.52},{"d":"2021-02-10","x":3.01,"y":4.31},{"d":"2021-02-10","x":3.09,"y":3.05},{"d":"2021-02-10","x":3.41,"y":2.85},{"d":"2021-02-10","x":3.72,"y":2.6},{"d":"2021-02-10","x":3.96,"y":2.0},{"d":"2021-02-10","x":4.36,"y":1.9},{"d":"2021-02-10","x":4.75,"y":1.59},{"d":"2021-02-10","x":5.07,"y":1.39},{"d":"2021-02-10","x":5.62,"y":1.29},{"d":"2021-02-10","x":6.25,"y":1.14},{"d":"2021-02-10","x":6.72,"y":1.09},{"d":"2021-02-10","x":7.28,"y":1.34},{"d":"2021-02-10","x":7.59,"y":1.14},{"d":"2021-02-10","x":7.83,"y":0.79},{"d":"2021-02-10","x":8.14,"y":0.69},{"d":"2021-02-10","x":8.54,"y":0.28},{"d":"2021-02-10","x":8.93,"y":0.13},{"d":"2021-02-10","x":9.25,"y":-0.12},{"d":"2021-02-10","x":9.72,"y":-0.22},{"d":"2021-02-10","x":10.04,"y":-0.12},{"d":"2021-02-10","x":10.1,"y":-0.17},{"d":"2021-02-10","x":10.57,"y":-0.32},{"d":"2021-02-10","x":11.03,"y":-0.42},{"d":"2021-02-10","x":11.59,"y":-0.42},{"d":"2021-02-10","x":12.14,"y":-0.52},{"d":"2021-02-10","x":12.7,"y":-0.47},{"d":"2021-02-10","x":13.25,"y":-0.52},{"d":"2021-02-10","x":13.81,"y":-0.62},{"d":"2021-02-10","x":13.99,"y":-0.37},{"d":"2021-02-10","x":14.27,"y":-0.73},{"d":"2021-02-10","x":14.73,"y":-0.78},{"d":"2021-02-10","x":15.29,"y":-0.83},{"d":"2021-02-10","x":15.66,"y":-0.93},{"d":"2021-02-10","x":16.03,"y":-0.83},{"d":"2021-02-10","x":16.4,"y":-1.13},{"d":"2021-02-10","x":16.77,"y":-1.03},{"d":"2021-02-10","x":17.14,"y":-0.98},{"d":"2021-02-10","x":17.51,"y":-1.08},{"d":"2021-02-10","x":17.69,"y":-1.63},{"d":"2021-02-10","x":18.06,"y":-1.63},{"d":"2021-02-10","x":18.34,"y":-1.33},{"d":"2021-02-10","x":18.62,"y":-1.53},{"d":"2021-02-10","x":18.9,"y":-1.43},{"d":"2021-02-10","x":19.18,"y":-2.04},{"d":"2021-02-10","x":19.45,"y":-1.88},{"d":"2021-02-10","x":19.82,"y":-1.63},{"d":"2021-02-10","x":20.1,"y":-1.73},{"d":"2021-02-10","x":20.38,"y":-1.53},{"d":"2021-02-10","x":20.66,"y":-0.42},{"d":"2021-02-10","x":21.03,"y":-0.78},{"d":"2021-02-10","x":21.4,"y":-0.83},{"d":"2021-02-10","x":21.77,"y":-0.98},{"d":"2021-02-10","x":21.95,"y":-1.43},{"d":"2021-02-10","x":22.32,"y":-1.53},{"d":"2021-02-10","x":22.6,"y":-1.93},{"d":"2021-02-10","x":22.88,"y":-2.04},{"d":"2021-02-10","x":23.16,"y":-2.44},{"d":"2021-02-10","x":23.43,"y":-3.04},{"d":"2021-02-10","x":23.9,"y":-3.09},{"d":"2021-02-10","x":24.36,"y":-2.94},{"d":"2021-02-10","x":24.82,"y":-2.74},{"d":"2021-02-10","x":24.88,"y":-1.33},{"d":"2021-02-10","x":24.93,"y":-1.4},{"d":"2021-02-10","x":24.97,"y":-2.84},
{"d":"2021-07-09","x":0,"y":2.9},{"d":"2021-07-09","x":0.17,"y":3.21},{"d":"2021-07-09","x":0.57,"y":3.46},{"d":"2021-07-09","x":0.96,"y":3.71},{"d":"2021-07-09","x":1.36,"y":3.86},{"d":"2021-07-09","x":1.83,"y":4.06},{"d":"2021-07-09","x":2.23,"y":4.37},{"d":"2021-07-09","x":2.62,"y":4.47},{"d":"2021-07-09","x":2.78,"y":4.31},{"d":"2021-07-09","x":2.86,"y":2.9},{"d":"2021-07-09","x":3.25,"y":2.85},{"d":"2021-07-09","x":3.57,"y":2.55},{"d":"2021-07-09","x":3.8,"y":1.95},{"d":"2021-07-09","x":4.2,"y":1.9},{"d":"2021-07-09","x":4.51,"y":1.59},{"d":"2021-07-09","x":4.83,"y":1.34},{"d":"2021-07-09","x":5.3,"y":1.24},{"d":"2021-07-09","x":5.93,"y":1.19},{"d":"2021-07-09","x":6.49,"y":0.94},{"d":"2021-07-09","x":6.88,"y":1.14},{"d":"2021-07-09","x":7.2,"y":1.34},{"d":"2021-07-09","x":7.51,"y":0.89},{"d":"2021-07-09","x":7.75,"y":0.38},{"d":"2021-07-09","x":8.07,"y":0.13},{"d":"2021-07-09","x":8.3,"y":0.18},{"d":"2021-07-09","x":8.62,"y":0.03},{"d":"2021-07-09","x":9.01,"y":-0.02}
]
},
"vconcat": [
{
 "width": 603, "height": 408,
 "title": {"text": "(Cross-section A)", "offset": 11.2},
 "encoding": {
  "x": {"field": "x", "type": "quantitative", "scale": {"domain": [-2.794, 25.758], "nice": false, "zero": false}, "axis": {"values": [0,1,2,3,4,5,6,7,8,9,10,11,12,13,14,15,16,17,18,19,20,21,22,23,24,25], "offset": -213.8, "titleY": 162, "title": "Distance from crown (m)"}},
  "y": {"field": "y", "type": "quantitative", "scale": {"domain": [-7.073, 6.424], "nice": false, "zero": false}, "axis": {"values": [-5,-4,-3,-2,-1,0,1,2,3,4,5,6], "title": "Elevation (m)"}}
 },
 "layer": [
  {"data": {"values": [{"x":0,"x2":0,"y":-5,"y2":6},{"x":0,"x2":25,"y":0,"y2":0}]},
   "mark": {"type": "rule", "color": "#bfbfbf", "strokeWidth": 2.5},
   "encoding": {"x2": {"field": "x2"}, "y2": {"field": "y2"}}},
  {"data": {"name": "lA"},
   "mark": {"type": "line", "strokeWidth": 2.5},
   "encoding": {
    "color": {"field": "d", "type": "nominal", "scale": {"domain": ["2020-02-10","2020-09-04","2021-02-10","2021-07-09"], "range": ["#5B9BD5","#C00000","#00B050","#FFC000"]}, "legend": {"legendY": 375.5}}
   }},
  {"data": {"values": [{"x":5,"y":-5,"y2":6},{"x":9,"y":-5,"y2":6}]},
   "mark": {"type": "rule", "color": "#7030A0", "strokeWidth": 1.2},
   "encoding": {"y2": {"field": "y2"}}},
  {"data": {"values": [{"x":5.87,"y":4.84,"x2":6.21,"y2":3.92},{"x":9.08,"y":3.55,"x2":7.82,"y2":2.61},{"x":10.86,"y":2.75,"x2":8.76,"y2":2.04}]},
   "mark": {"type": "rule", "color": "#595959", "strokeWidth": 1},
   "encoding": {"x2": {"field": "x2"}, "y2": {"field": "y2"}}},
  {"data": {"values": [{"x":6.56,"y":5.18,"t":"cota=7.11"},{"x":10.54,"y":4.18,"t":"cota=0.19"},{"x":11.24,"y":3.08,"t":"cota=4.02"}]},
   "mark": {"type": "text", "fontSize": 11.5, "color": "#595959"},
   "encoding": {"text": {"field": "t"}}}
 ]
},
{
 "width": 603, "height": 410,
 "title": {"text": "(Cross-section B)", "offset": 16.2},
 "encoding": {
  "x": {"field": "x", "type": "quantitative", "scale": {"domain": [-2.794, 25.758], "nice": false, "zero": false}, "axis": {"values": [0,1,2,3,4,5,6,7,8,9,10,11,12,13,14,15,16,17,18,19,20,21,22,23,24,25], "offset": -211.2, "titleY": 160, "title": "Distance from crown (m)"}},
  "y": {"field": "y", "type": "quantitative", "scale": {"domain": [-5.69, 5.356], "nice": false, "zero": false}, "axis": {"values": [-4,-3,-2,-1,0,1,2,3,4,5], "title": "Elevation (m)"}}
 },
 "layer": [
  {"data": {"values": [{"x":0,"x2":0,"y":-4,"y2":5},{"x":0,"x2":25,"y":0,"y2":0}]},
   "mark": {"type": "rule", "color": "#bfbfbf", "strokeWidth": 2.5},
   "encoding": {"x2": {"field": "x2"}, "y2": {"field": "y2"}}},
  {"data": {"name": "lB"},
   "mark": {"type": "line", "strokeWidth": 2.5},
   "encoding": {
    "color": {"field": "d", "type": "nominal", "scale": {"domain": ["2020-02-10","2020-09-04","2021-02-10","2021-07-09"], "range": ["#5B9BD5","#C00000","#00B050","#FFC000"]}, "legend": {"legendY": 379}}
   }},
  {"data": {"values": [{"x":5,"y":-4,"y2":5},{"x":9,"y":-4,"y2":5}]},
   "mark": {"type": "rule", "color": "#7030A0", "strokeWidth": 1.2},
   "encoding": {"y2": {"field": "y2"}}},
  {"data": {"values": [{"x":6.69,"y":3.28,"x2":6.09,"y2":2.42},{"x":10.04,"y":1.52,"x2":8.06,"y2":1.29}]},
   "mark": {"type": "rule", "color": "#595959", "strokeWidth": 1},
   "encoding": {"x2": {"field": "x2"}, "y2": {"field": "y2"}}},
  {"data": {"values": [{"x":6.83,"y":3.43,"t":"cota=1.04"},{"x":10.55,"y":2.33,"t":"cota=2.61"}]},
   "mark": {"type": "text", "fontSize": 11.5, "color": "#595959"},
   "encoding": {"text": {"field": "t"}}}
 ]
},
{
 "width": 603, "height": 409,
 "title": {"text": "(Cross-section C)", "offset": 9},
 "encoding": {
  "x": {"field": "x", "type": "quantitative", "scale": {"domain": [-2.794, 25.758], "nice": false, "zero": false}, "axis": {"values": [0,1,2,3,4,5,6,7,8,9,10,11,12,13,14,15,16,17,18,19,20,21,22,23,24,25], "offset": -195.8, "titleY": 144, "title": "Distance from crown (m)"}},
  "y": {"field": "y", "type": "quantitative", "scale": {"domain": [-5.921, 6.447], "nice": false, "zero": false}, "axis": {"values": [-4,-3,-2,-1,0,1,2,3,4,5,6], "title": "Elevation (m)"}}
 },
 "layer": [
  {"data": {"values": [{"x":0,"x2":0,"y":-4,"y2":6},{"x":0,"x2":25,"y":0,"y2":0}]},
   "mark": {"type": "rule", "color": "#bfbfbf", "strokeWidth": 2.5},
   "encoding": {"x2": {"field": "x2"}, "y2": {"field": "y2"}}},
  {"data": {"name": "lC"},
   "mark": {"type": "line", "strokeWidth": 2.5},
   "encoding": {
    "color": {"field": "d", "type": "nominal", "scale": {"domain": ["2020-02-10","2020-09-04","2021-02-10","2021-07-09"], "range": ["#5B9BD5","#C00000","#00B050","#FFC000"]}, "legend": {"legendY": 377.5}}
   }},
  {"data": {"values": [{"x":5,"y":-4,"y2":6},{"x":9,"y":-4,"y2":6}]},
   "mark": {"type": "rule", "color": "#7030A0", "strokeWidth": 1.2},
   "encoding": {"y2": {"field": "y2"}}},
  {"data": {"values": [{"x":6.33,"y":2.7,"x2":5.46,"y2":1.69},{"x":9.85,"y":1.64,"x2":8.62,"y2":0.71}]},
   "mark": {"type": "rule", "color": "#595959", "strokeWidth": 1},
   "encoding": {"x2": {"field": "x2"}, "y2": {"field": "y2"}}},
  {"data": {"values": [{"x":6.57,"y":2.98,"t":"cota=3.73"},{"x":10.76,"y":1.92,"t":"cota=1.43"}]},
   "mark": {"type": "text", "fontSize": 11.5, "color": "#595959"},
   "encoding": {"text": {"field": "t"}}}
 ]
}
]
}
